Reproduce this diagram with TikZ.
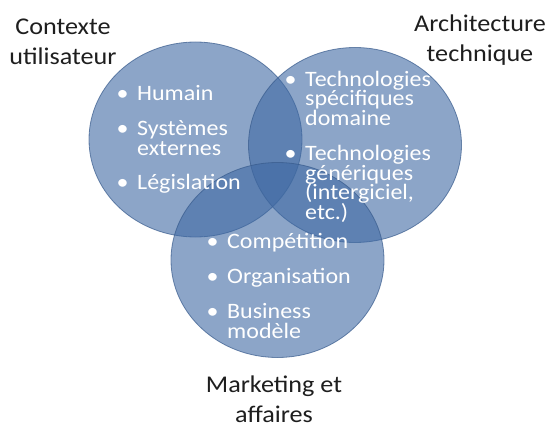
\documentclass[tikz,border=0pt]{standalone}
\usepackage{fontspec}
\setmainfont{Carlito}
\usepackage{tikz}
\definecolor{bb}{RGB}{63, 105, 163}
\definecolor{ee}{RGB}{55, 90, 140}
\definecolor{tt}{RGB}{30, 30, 30}
\newcommand{\bul}{\llap{\textbullet\hspace{8pt}}}
\newcommand{\tight}{\lineskiplimit=-30pt\relax}
\usetikzlibrary{shapes.geometric}

\begin{document}
\begin{tikzpicture}
			[x=1pt, y=-1pt, every node/.style={inner sep=0pt},
			venn/.style={ellipse, minimum width=213pt, minimum height=195pt, fill=bb, fill opacity=0.6, draw=ee, draw opacity=0.7, line width=0.8pt},
			item/.style={anchor=base west, align=left, text=white, xscale=1.09, font=\fontsize{22}{19.5}\selectfont\tight},
			title/.style={anchor=base, align=center, text=tt, xscale=1.09, font=\fontsize{24}{30}\selectfont\tight}]
			\useasboundingbox (0, 0) rectangle (549, 428);
			\node (1) [venn] at (195.5, 139.5) {};
			\node (2) [venn] at (355, 145) {};
			\node (3) [venn] at (277.5, 260) {};
			% base anchor = baseline of the last line
			\node (11) [item] at (137, 100) {\bul Humain};
			\node (12) [item] at (137, 155) {\bul Systèmes\\externes};
			\node (13) [item] at (137, 189) {\bul Législation};
			\node (21) [item] at (305, 125) {\bul Technologies\\spécifiques\\domaine};
			\node (22) [item] at (305, 219) {\bul Technologies\\génériques\\(intergiciel,\\etc.)};
			\node (31) [item] at (227, 248) {\bul Compétition};
			\node (32) [item] at (227, 283) {\bul Organisation};
			\node (33) [item] at (227, 338) {\bul Business\\modèle};
			\node (10) [title] at (63, 65) {Contexte\\utilisateur};
			\node (20) [title] at (480, 62) {Architecture\\technique};
			\node (30) [title] at (274, 422) {Marketing et\\affaires};
		\end{tikzpicture}
\end{document}
